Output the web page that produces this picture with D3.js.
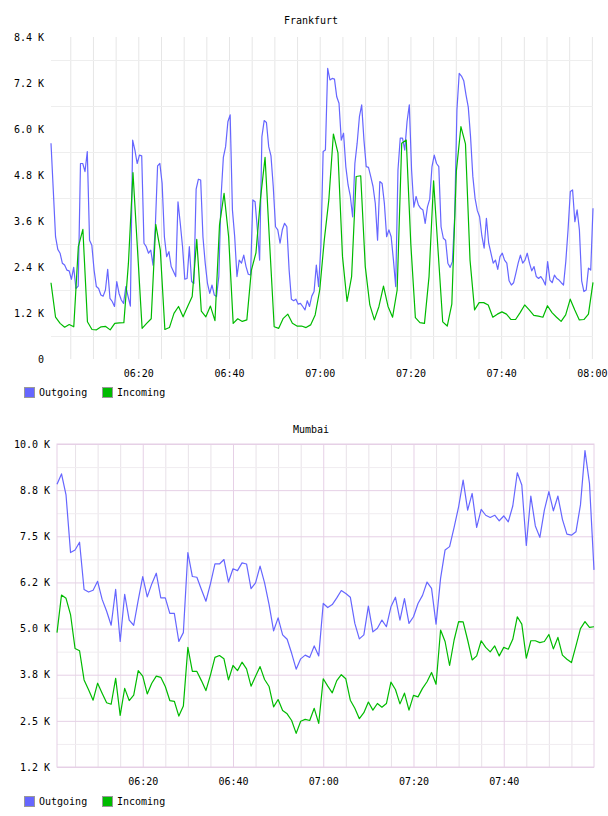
<!DOCTYPE html>
<html>
<head>
<meta charset="utf-8">
<script src="https://cdnjs.cloudflare.com/ajax/libs/d3/7.8.5/d3.min.js"></script>
<style>
    body { margin: 0; background: #fff; }
    svg text { font-family: "DejaVu Sans Mono", monospace; font-size: 10px; fill: #000; }
</style>
</head>
<body>
<svg id="chart" width="608" height="816"></svg>
<script>
const seriesNames = ["Outgoing", "Incoming"];
const seriesColors = ["#6666ff", "#00bb00"];
const timeLabels = ["06:20", "06:40", "07:00", "07:20", "07:40", "08:00"];

// Frankfurt, values in K. outgoing sampled every 30 s, incoming every minute
const frankfurtRange = ["06:00:45", "08:00:15"];
const frankfurtOutgoing = [
    5.63, 4.41, 3.19, 2.86, 2.76, 2.50, 2.45, 2.32, 2.30, 2.08,
    2.39, 1.84, 1.90, 5.10, 5.10, 4.89, 5.41, 3.10, 2.97, 2.32,
    1.89, 1.84, 1.67, 1.64, 1.80, 2.34, 1.58, 1.50, 1.37, 2.02,
    1.71, 1.54, 1.45, 1.89, 1.63, 1.38, 5.71, 5.45, 5.10, 5.32,
    5.30, 3.02, 2.93, 2.76, 2.84, 2.45, 3.45, 5.04, 5.10, 4.58,
    3.19, 2.67, 2.80, 2.41, 2.28, 2.15, 4.10, 3.54, 2.93, 2.08,
    2.10, 2.93, 2.02, 1.97, 4.43, 4.69, 4.67, 3.19, 2.50, 1.97,
    1.71, 1.93, 1.67, 1.63, 2.15, 4.24, 5.26, 5.54, 6.19, 6.37,
    3.89, 3.19, 2.15, 2.58, 2.50, 2.71, 2.41, 2.21, 2.19, 4.15,
    4.10, 3.37, 2.58, 5.80, 6.22, 6.17, 5.54, 5.30, 4.50, 3.45,
    3.37, 3.02, 3.37, 3.54, 3.45, 2.32, 1.56, 1.52, 1.56, 1.43,
    1.45, 1.37, 1.28, 1.52, 1.37, 1.64, 1.76, 2.45, 1.89, 2.93,
    5.41, 5.45, 7.58, 7.28, 7.32, 7.30, 6.84, 6.67, 5.71, 5.89,
    5.02, 4.54, 4.24, 3.71, 5.10, 5.63, 6.32, 6.63, 5.71, 5.02,
    5.00, 4.76, 4.50, 4.06, 3.10, 4.63, 4.58, 4.06, 3.19, 3.37,
    3.19, 2.58, 1.89, 4.93, 5.76, 5.76, 5.45, 6.19, 6.63, 4.93,
    3.96, 4.24, 4.02, 3.93, 3.89, 3.54, 3.97, 4.17, 5.02, 5.32,
    5.10, 5.02, 3.45, 3.15, 3.10, 2.50, 2.39, 2.54, 3.71, 6.50,
    7.45, 7.38, 7.26, 6.89, 6.57, 5.80, 4.77, 4.19, 3.87, 3.71,
    3.21, 2.89, 3.67, 3.02, 2.76, 2.50, 2.58, 2.34, 2.67, 2.76,
    2.58, 2.50, 2.04, 1.93, 1.99, 2.24, 2.50, 2.71, 2.50, 2.58,
    2.76, 2.50, 2.30, 2.41, 2.15, 2.10, 2.15, 2.06, 1.93, 2.54,
    2.06, 1.99, 2.19, 2.10, 2.06, 1.99, 1.93, 2.54, 3.37, 4.37,
    4.41, 3.58, 3.89, 3.37, 2.04, 1.76, 1.80, 2.37, 2.32, 3.93
];
const frankfurtIncoming = [
    1.99, 1.09, 0.93, 0.83, 0.90, 0.84, 2.93, 3.38, 0.97, 0.77,
    0.76, 0.84, 0.85, 0.76, 0.93, 0.94, 0.95, 2.50, 4.86, 2.84,
    0.80, 0.93, 1.05, 3.51, 2.84, 0.77, 0.82, 1.19, 1.37, 1.10,
    1.37, 1.63, 3.12, 1.25, 1.10, 1.38, 1.00, 3.50, 4.32, 3.19,
    0.93, 1.05, 0.98, 1.02, 2.32, 2.77, 4.19, 5.26, 3.02, 0.84,
    0.80, 1.06, 1.17, 0.93, 0.86, 0.86, 0.82, 0.89, 1.15, 1.80,
    3.10, 4.15, 5.87, 5.38, 2.67, 1.50, 2.15, 4.76, 4.78, 2.41,
    1.41, 1.02, 1.37, 1.90, 1.37, 1.09, 1.80, 5.63, 5.71, 3.00,
    1.08, 0.95, 0.93, 2.15, 4.65, 2.80, 0.97, 0.86, 1.43, 4.90,
    6.06, 5.61, 2.58, 1.28, 1.47, 1.47, 1.41, 1.09, 1.17, 1.23,
    1.17, 1.03, 1.03, 1.21, 1.41, 1.28, 1.14, 1.12, 1.09, 1.39,
    1.21, 1.09, 0.98, 1.15, 1.56, 1.28, 1.02, 1.03, 1.17, 2.00
];
const frankfurtTicks = [0, 1.2, 2.4, 3.6, 4.8, 6.0, 7.2, 8.4];
const frankfurtTickLabels = ["0", "1.2 K", "2.4 K", "3.6 K", "4.8 K", "6.0 K", "7.2 K", "8.4 K"];

// Mumbai, values in K, one sample per minute
const mumbaiRange = ["06:01:00", "08:00:00"];
const mumbaiOutgoing = [
    8.91, 9.19, 8.62, 7.06, 7.13, 7.34, 6.06, 5.99, 6.04, 6.28,
    5.79, 5.47, 5.09, 6.06, 4.65, 5.93, 5.23, 5.09, 5.77, 6.41,
    5.86, 6.21, 6.50, 5.83, 5.83, 5.41, 5.41, 4.65, 4.89, 7.06,
    6.41, 6.39, 6.06, 5.74, 6.21, 6.75, 6.75, 6.87, 6.26, 6.62,
    6.57, 6.78, 6.75, 6.08, 6.24, 6.69, 6.24, 5.65, 4.94, 5.29,
    4.83, 4.71, 4.33, 3.90, 4.18, 4.28, 4.22, 4.53, 4.26, 5.68,
    5.57, 5.65, 5.83, 6.03, 5.95, 5.85, 5.14, 4.72, 4.83, 5.61,
    4.91, 5.01, 5.23, 5.05, 5.59, 5.85, 5.23, 5.81, 5.14, 5.32,
    5.68, 5.90, 6.26, 6.09, 5.12, 6.36, 7.13, 7.22, 7.74, 8.30,
    9.02, 8.21, 8.66, 7.74, 8.23, 8.07, 8.01, 8.07, 7.92, 8.05,
    7.89, 8.32, 9.22, 8.89, 7.25, 8.59, 7.78, 7.47, 8.21, 8.71,
    8.19, 8.59, 7.96, 7.56, 7.53, 7.62, 8.35, 9.82, 8.93, 6.59
];
const mumbaiIncoming = [
    4.89, 5.91, 5.82, 5.38, 4.46, 4.40, 3.61, 3.34, 3.06, 3.52,
    3.25, 2.99, 2.95, 3.65, 2.65, 3.38, 3.05, 3.20, 3.86, 3.71,
    3.23, 3.52, 3.71, 3.68, 3.43, 3.05, 3.03, 2.63, 2.90, 4.49,
    3.84, 3.84, 3.59, 3.32, 3.74, 4.22, 4.27, 4.18, 3.61, 4.00,
    3.86, 4.09, 3.91, 3.44, 3.71, 3.97, 3.62, 3.43, 2.88, 3.08,
    2.78, 2.69, 2.51, 2.16, 2.49, 2.54, 2.51, 2.84, 2.43, 3.64,
    3.44, 3.26, 3.59, 3.75, 3.64, 3.06, 2.84, 2.56, 2.72, 3.01,
    2.79, 2.97, 2.87, 2.97, 3.55, 3.35, 2.96, 3.25, 2.79, 3.19,
    3.15, 3.38, 3.56, 3.81, 3.49, 4.96, 4.65, 4.00, 4.69, 5.19,
    5.18, 4.69, 4.15, 4.26, 4.67, 4.49, 4.37, 4.53, 4.26, 4.49,
    4.44, 4.71, 5.32, 5.12, 4.20, 4.67, 4.67, 4.62, 4.65, 4.84,
    4.45, 4.76, 4.28, 4.17, 4.08, 4.53, 5.00, 5.19, 5.03, 5.05
];
const mumbaiTicks = [1.25, 2.5, 3.75, 5.0, 6.25, 7.5, 8.75, 10.0];
const mumbaiTickLabels = ["1.2 K", "2.5 K", "3.8 K", "5.0 K", "6.2 K", "7.5 K", "8.8 K", "10.0 K"];

const parseTime = d3.timeParse("%H:%M:%S");

function spreadOverRange(values, range) {
    const start = parseTime(range[0]);
    const end = parseTime(range[1]);
    const step = (end - start) / (values.length - 1);
    return values.map(function (v, i) {
        return { time: new Date(+start + i * step), value: v };
    });
}

function renderChart(svg, opts) {
    const g = svg.append("g");
    const start = parseTime(opts.range[0]);
    const end = parseTime(opts.range[1]);
    const plotHeight = opts.bottom - opts.top;
    const plotWidth = opts.right - opts.left;

    const xScale = d3.scaleTime()
        .domain([start, end])
        .range([opts.left, opts.right]);
    const yScale = d3.scaleLinear()
        .domain([opts.ticks[0], opts.ticks[opts.ticks.length - 1]])
        .range([opts.bottom, opts.top]);

    // time labels only where they fall strictly inside the plotted span
    const labelTimes = timeLabels.map(function (t) { return parseTime(t + ":00"); })
        .filter(function (t) { return t > start && t < end; });
    const minorTimes = d3.timeMinute.every(5).range(start, end)
        .filter(function (t) { return !opts.major || labelTimes.every(function (l) { return +l !== +t; }); });
    const midValues = opts.ticks.slice(1).map(function (v, i) { return (v + opts.ticks[i]) / 2; });

    // minor grid
    g.append("g")
        .attr("transform", `translate(0, ${opts.bottom})`)
        .call(d3.axisBottom(xScale).tickValues(minorTimes).tickSize(-plotHeight).tickFormat(""))
        .call(function (s) { s.select(".domain").remove(); })
        .selectAll("line").attr("stroke", opts.minorV);
    g.append("g")
        .attr("transform", `translate(${opts.left}, 0)`)
        .call(d3.axisLeft(yScale).tickValues(midValues).tickSize(-plotWidth).tickFormat(""))
        .call(function (s) { s.select(".domain").remove(); })
        .selectAll("line").attr("stroke", opts.minorH);

    if (opts.major) {
        g.append("g")
            .attr("transform", `translate(0, ${opts.bottom})`)
            .call(d3.axisBottom(xScale).tickValues(labelTimes).tickSize(-plotHeight).tickFormat(""))
            .call(function (s) { s.select(".domain").remove(); })
            .selectAll("line").attr("stroke", opts.major);
        g.append("g")
            .attr("transform", `translate(${opts.left}, 0)`)
            .call(d3.axisLeft(yScale).tickValues(opts.ticks).tickSize(-plotWidth).tickFormat(""))
            .call(function (s) { s.select(".domain").remove(); })
            .selectAll("line").attr("stroke", opts.major);
        g.append("rect")
            .attr("x", opts.left)
            .attr("y", opts.top)
            .attr("width", plotWidth)
            .attr("height", plotHeight)
            .attr("fill", "none")
            .attr("stroke", opts.major);
    }

    // axis labels
    g.append("g")
        .attr("transform", `translate(${opts.left}, 0)`)
        .call(d3.axisLeft(yScale).tickValues(opts.ticks).tickSize(0).tickPadding(7)
            .tickFormat(function (d, i) { return opts.tickLabels[i]; }))
        .call(function (s) { s.select(".domain").remove(); });
    g.append("g")
        .attr("transform", `translate(0, ${opts.bottom})`)
        .call(d3.axisBottom(xScale).tickValues(labelTimes).tickSize(0).tickPadding(11)
            .tickFormat(d3.timeFormat("%H:%M")))
        .call(function (s) { s.select(".domain").remove(); });

    // series
    const line = d3.line()
        .x(function (d) { return xScale(d.time); })
        .y(function (d) { return yScale(d.value); });
    opts.series.forEach(function (values, i) {
        g.append("path")
            .datum(spreadOverRange(values, opts.range))
            .attr("fill", "none")
            .attr("stroke", seriesColors[i])
            .attr("stroke-width", 1.2)
            .attr("stroke-linejoin", "round")
            .attr("d", line);
    });

    g.append("text")
        .attr("x", 311)
        .attr("y", opts.titleY)
        .attr("text-anchor", "middle")
        .text(opts.title);

    // legend
    const legendX = [24, 102];
    seriesNames.forEach(function (name, i) {
        g.append("rect")
            .attr("x", legendX[i] + 0.5)
            .attr("y", opts.legendY + 0.5)
            .attr("width", 10)
            .attr("height", 10)
            .attr("fill", seriesColors[i])
            .attr("stroke", "#999");
        g.append("text")
            .attr("x", legendX[i] + 15)
            .attr("y", opts.legendY + 9)
            .text(name);
    });
}

const svg = d3.select("#chart");

renderChart(svg, {
    title: "Frankfurt",
    titleY: 24,
    range: frankfurtRange,
    series: [frankfurtOutgoing, frankfurtIncoming],
    ticks: frankfurtTicks,
    tickLabels: frankfurtTickLabels,
    left: 51, right: 593, top: 37, bottom: 359,
    minorV: "#e6e6e6",
    minorH: "#eeeeee",
    major: null,
    legendY: 387
});

renderChart(svg, {
    title: "Mumbai",
    titleY: 433,
    range: mumbaiRange,
    series: [mumbaiOutgoing, mumbaiIncoming],
    ticks: mumbaiTicks,
    tickLabels: mumbaiTickLabels,
    left: 57, right: 594, top: 444, bottom: 767,
    minorV: "#e8e2e8",
    minorH: "#f0ecf0",
    major: "#e6d0e6",
    legendY: 796
});
</script>
</body>
</html>
